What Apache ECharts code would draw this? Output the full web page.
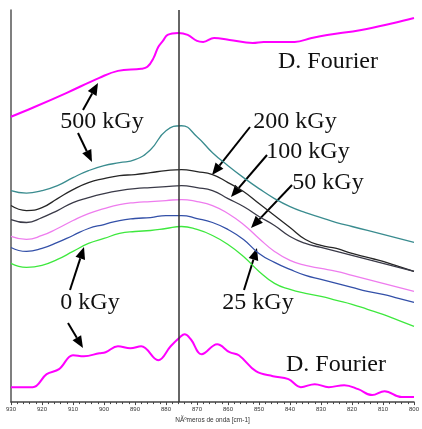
<!DOCTYPE html>
<html>
<head>
<meta charset="utf-8">
<script src="https://cdn.jsdelivr.net/npm/echarts@6/dist/echarts.min.js"></script>
<style>html,body{margin:0;padding:0;background:#fff}#c{width:422px;height:429px}</style>
</head>
<body>
<div id="c"></div>
<script>
// wavenumber grid (cm-1) for the measured spectra
const wavenumbers = [930,925,920,915,910,905,900,895,890,885,880,875,870,865,860,855,850,845,840,835,830,825,820,815,810,805,800];
// absorbance (arbitrary units, offset spectra)
const dose500 = [212,209.5,212,217,225,232,237,240,243,253,272,277,266,250,237,225,214,204,196,190,185,180,176,172,168,164,160];
const dose200 = [197,192,195,204,213,220,224,227,228,230,232,233,231,228,220,211,199,187,175,163,157,154,149,145,141,136,131];
const dose100 = [183,180,185,192,200,205,209,212,214,215,216,217,215,212,204,196,186,177,166,159,155,151,147,143,139,135,131];
const dose50  = [166,163,167,174,182,189,194,198,200,201,202,203,201,197,189,178,164,151,142,137,134,131,127,123,119,115,111];
const dose25  = [155,151,154,160,167,174,178,182,184,185,187,187,184,180,173,163,149,140,133,127,123,119,115,111,108,104,100];
const dose0   = [139,135,137,143,151,159,164,169,171,172,174,176,173,167,158,146,131,119,113,109,106,102,98,93,88,82,76];
// Fourier deconvolution curves
const fourierTopWn  = [930,923,912,901.5,895.5,888,886,884,882.5,881,879.5,876,873,870,868,864.5,859.5,852,848.5,838.5,833,828,817,806.5,800];
const fourierTopVal = [286,295,310,325,332,334,336,345,356,362,368,370,368,362,361,365,363,360,361,361,365,368,373,380,385];
const fourierBotWn  = [930,923,918.5,914.5,910,906.5,901.5,899.5,895.5,891.5,888,882.5,878.5,875.5,874,872,868.5,863.5,859.5,856.5,851,845.5,840.5,836.5,832,827.5,822.5,818,813.5,809.5,804,800];
const fourierBotVal = [15,15,28,33,47,46,49,50,56,54,56,42,56,65,68,63,48,58,50,47,31,26,23,15,18,15,17,13,7,11,5,5];
const markerWn = 876;

const pair = (xs, ys) => xs.map((x, i) => [x, ys[i]]);

const spectra = [
  {name:'500 kGy', data:dose500, color:'#3a8c8f'},
  {name:'200 kGy', data:dose200, color:'#262626'},
  {name:'100 kGy', data:dose100, color:'#3a3a48'},
  {name:'50 kGy',  data:dose50,  color:'#ee7cee'},
  {name:'25 kGy',  data:dose25,  color:'#3350a8'},
  {name:'0 kGy',   data:dose0,   color:'#3ee83e'}
];

const series = spectra.map(s => ({
  type:'line', name:s.name, data:pair(wavenumbers, s.data), smooth:0.5, symbol:'none',
  lineStyle:{color:s.color, width:1.3}
}));
series.push({type:'line', name:'Fourier top', data:pair(fourierTopWn, fourierTopVal), smooth:0.4, symbol:'none', lineStyle:{color:'#ff00ff', width:2}});
series.push({type:'line', name:'Fourier bottom', data:pair(fourierBotWn, fourierBotVal), smooth:0.4, symbol:'none', lineStyle:{color:'#ff00ff', width:2},
  markLine:{silent:true, symbol:'none', label:{show:false}, lineStyle:{color:'#333', width:1.5, type:'solid'}, data:[{xAxis:markerWn}]}});

function arrow(x1,y1,x2,y2){
  const dx=x2-x1, dy=y2-y1, L=Math.sqrt(dx*dx+dy*dy), ux=dx/L, uy=dy/L;
  const hl=12, hw=5;
  const bx=x2-ux*hl, by=y2-uy*hl;
  return [
    {type:'line', shape:{x1:x1,y1:y1,x2:bx,y2:by}, style:{stroke:'#000', lineWidth:2}},
    {type:'polygon', shape:{points:[[x2,y2],[bx-uy*hw,by+ux*hw],[bx+uy*hw,by-ux*hw]]}, style:{fill:'#000'}}
  ];
}
const arrows = [
  [83,110,98,83],[78,133,92,162],[250,127,212,175],[267,155,231,197],
  [292,185,251,228],[244,290,257,248],[70,290,84,247],[68,323,83,348]
];
const labels = [
  ['D. Fourier',328,62],['500 kGy',102,122],['200 kGy',295,122],['100 kGy',308,152],
  ['50 kGy',328,183],['25 kGy',258,303],['0 kGy',90,303],['D. Fourier',336,365]
];
const graphic = [];
arrows.forEach(a => graphic.push(...arrow(...a)));
labels.forEach(l => graphic.push({type:'text', x:l[1], y:l[2], style:{text:l[0], fill:'#111', font:'24px "Liberation Serif"', textAlign:'center', textVerticalAlign:'middle'}}));

const chart = echarts.init(document.getElementById('c'), null, {renderer:'canvas'});
chart.setOption({
  animation:false,
  grid:{left:11, right:1.5, top:10, bottom:26},
  xAxis:{type:'value', min:800, max:930, interval:10, inverse:true,
    name:'NÃºmeros de onda [cm-1]', nameLocation:'middle', nameGap:14,
    nameTextStyle:{fontSize:6.5, color:'#333', fontFamily:'Liberation Sans'},
    axisLine:{lineStyle:{color:'#444', width:1.5}},
    axisTick:{length:3, lineStyle:{color:'#444'}},
    minorTick:{show:true, splitNumber:5, length:2, lineStyle:{color:'#444'}},
    axisLabel:{fontSize:6, color:'#333', margin:4, fontFamily:'Liberation Sans'},
    splitLine:{show:false}},
  yAxis:{type:'value', min:0, max:393, axisLine:{show:true, lineStyle:{color:'#555', width:1.5}},
    axisTick:{show:false}, axisLabel:{show:false}, splitLine:{show:false}},
  series:series,
  graphic:graphic
});
</script>
</body>
</html>
